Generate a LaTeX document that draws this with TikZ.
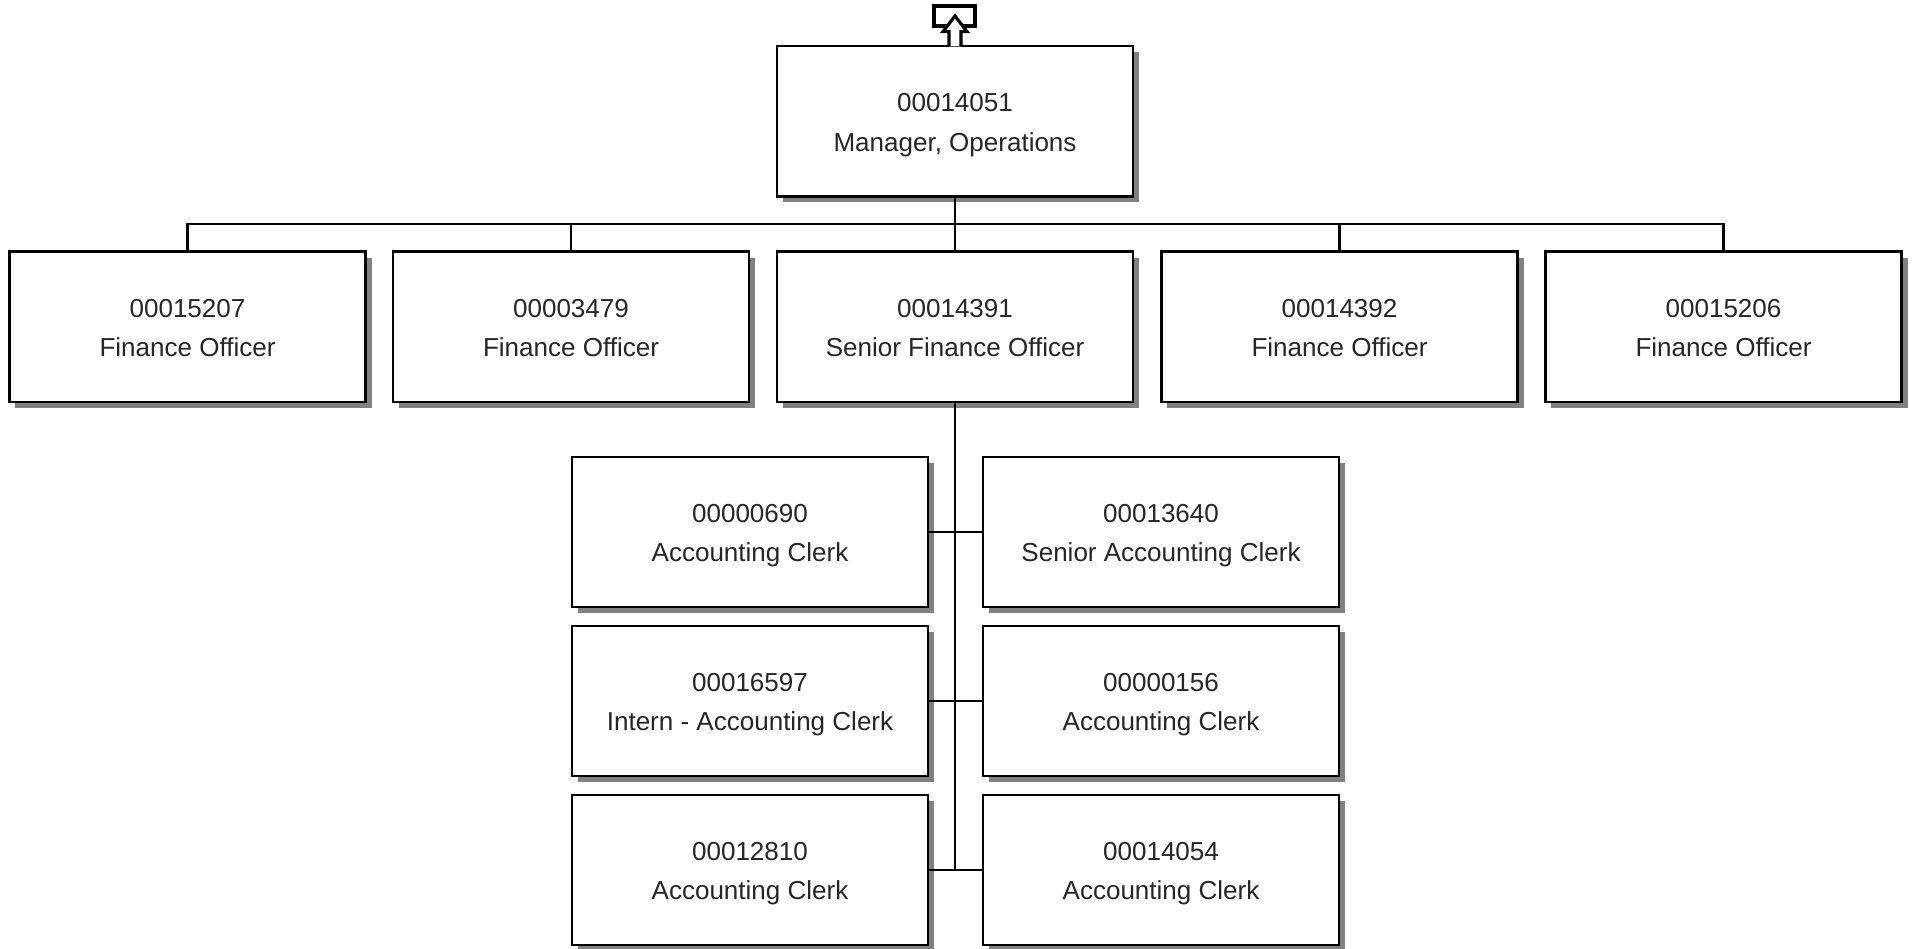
\documentclass[tikz,border=0pt]{standalone}
\usepackage{fontspec}
\setmainfont{Liberation Sans}
\usetikzlibrary{shadows}
\begin{document}
\begin{tikzpicture}[x=0.01cm,y=-0.01cm,
  posbox/.style={draw=black, line width=0.7pt, fill=white,
    minimum width=3.56cm, minimum height=1.5cm, inner sep=0pt, outer sep=0pt,
    align=center, font=\fontsize{7.4}{11.2}\selectfont, text=black!85,
    text height=17pt, text depth=0pt,
    drop shadow={shadow xshift=0.06cm, shadow yshift=-0.06cm, fill=black!50, opacity=1}},
  conn/.style={draw=black, line width=0.7pt},
  upbox/.style={draw=black, line width=0.9pt, fill=white, minimum width=0.41cm,
    minimum height=0.2cm, inner sep=0pt, outer sep=0pt},
  uparrow/.style={draw=black, fill=white, line width=0.9pt, line join=miter}]
\useasboundingbox (0,0) rectangle (1913,948);

% top
\node[posbox] (top) at (955,121.3) {00014051\\Manager, Operations};
\node[upbox] (upr) at (954.5,16) {};
\filldraw[uparrow] (top.north) ++(-6,0) -- ++(0,-14.6) -- ++(-6,0) -- ++(12,-15.7)
  -- ++(12,15.7) -- ++(-6,0) -- ++(0,14.6);

% second row
\node[posbox] (f1) at (187.5,326.7) {00015207\\Finance Officer};
\node[posbox] (f2) at (571,326.7) {00003479\\Finance Officer};
\node[posbox] (f3) at (955,326.7) {00014391\\Senior Finance Officer};
\node[posbox] (f4) at (1339.5,326.7) {00014392\\Finance Officer};
\node[posbox] (f5) at (1723.5,326.7) {00015206\\Finance Officer};

\coordinate (bus) at (955,224);
\draw[conn] (f1.north) -- (f1.north |- bus) -- (f5.north |- bus) -- (f5.north);
\draw[conn] (f2.north) -- (f2.north |- bus);
\draw[conn] (f4.north) -- (f4.north |- bus);
\draw[conn] (top.south) -- (f3.north);

% third level
\node[posbox] (c1l) at (750,532) {00000690\\Accounting Clerk};
\node[posbox] (c1r) at (1161,532) {00013640\\Senior Accounting Clerk};
\node[posbox] (c2l) at (750,701) {00016597\\Intern - Accounting Clerk};
\node[posbox] (c2r) at (1161,701) {00000156\\Accounting Clerk};
\node[posbox] (c3l) at (750,870) {00012810\\Accounting Clerk};
\node[posbox] (c3r) at (1161,870) {00014054\\Accounting Clerk};

\draw[conn] (f3.south) -- (f3.south |- c3l.east);
\draw[conn] (c1l.east) -- (c1r.west);
\draw[conn] (c2l.east) -- (c2r.west);
\draw[conn] (c3l.east) -- (c3r.west);
\end{tikzpicture}
\end{document}
